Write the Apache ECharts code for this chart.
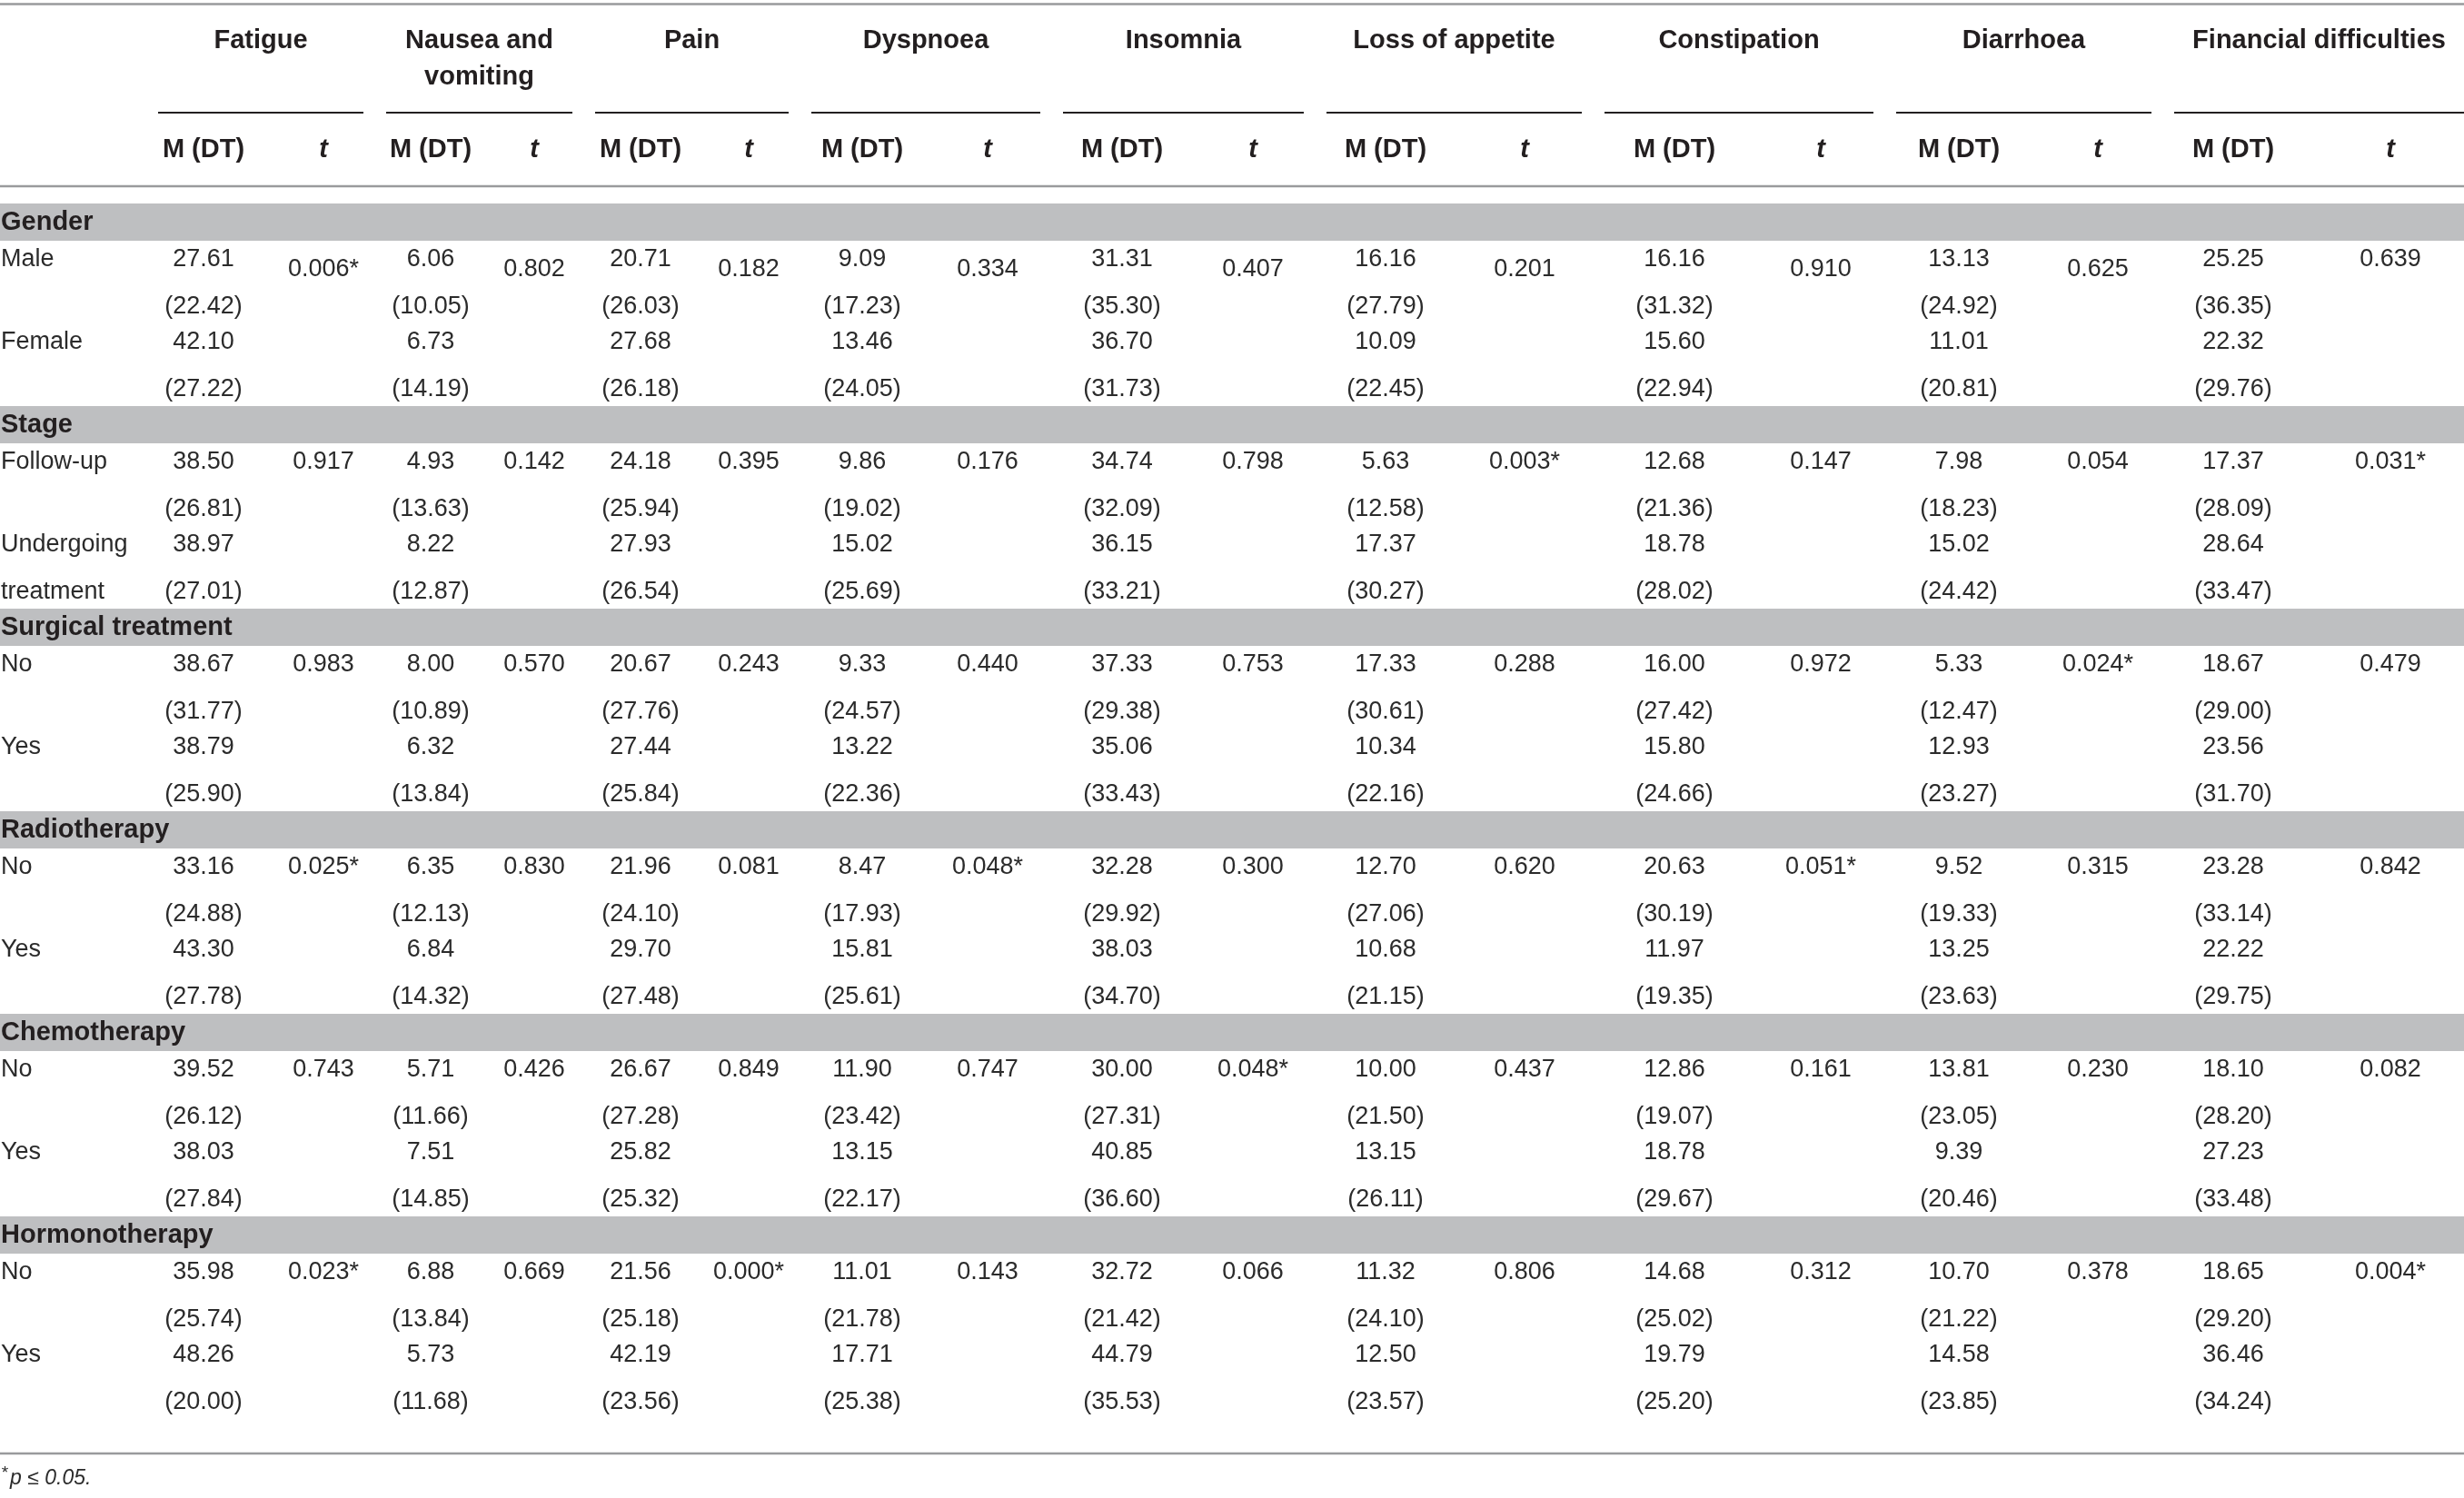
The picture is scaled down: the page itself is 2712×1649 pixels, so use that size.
<!DOCTYPE html>
<html>
<head>
<meta charset="utf-8">
<title>Symptom scales by clinical variables</title>
<script src="https://cdn.jsdelivr.net/npm/echarts@6/dist/echarts.min.js"></script>
<style>
html, body { margin: 0; padding: 0; background: #fff; }
#main { width: 2712px; height: 1649px; }
</style>
</head>
<body>
<div id="main"></div>
<script>
var symptoms = ['Fatigue', 'Nausea and\nvomiting', 'Pain', 'Dyspnoea', 'Insomnia',
  'Loss of appetite', 'Constipation', 'Diarrhoea', 'Financial difficulties'];
var subHeads = ['M (DT)', 't'];
var groups = ['Gender', 'Stage', 'Surgical treatment', 'Radiotherapy', 'Chemotherapy', 'Hormonotherapy'];
var levels = [['Male', 'Female'], ['Follow-up', 'Undergoing\ntreatment'], ['No', 'Yes'],
  ['No', 'Yes'], ['No', 'Yes'], ['No', 'Yes']];

var genderMean = [[27.61, 6.06, 20.71, 9.09, 31.31, 16.16, 16.16, 13.13, 25.25],
                  [42.10, 6.73, 27.68, 13.46, 36.70, 10.09, 15.60, 11.01, 22.32]];
var genderSD = [[22.42, 10.05, 26.03, 17.23, 35.30, 27.79, 31.32, 24.92, 36.35],
                [27.22, 14.19, 26.18, 24.05, 31.73, 22.45, 22.94, 20.81, 29.76]];
var genderT = ['0.006*', '0.802', '0.182', '0.334', '0.407', '0.201', '0.910', '0.625', '0.639'];

var stageMean = [[38.50, 4.93, 24.18, 9.86, 34.74, 5.63, 12.68, 7.98, 17.37],
                 [38.97, 8.22, 27.93, 15.02, 36.15, 17.37, 18.78, 15.02, 28.64]];
var stageSD = [[26.81, 13.63, 25.94, 19.02, 32.09, 12.58, 21.36, 18.23, 28.09],
               [27.01, 12.87, 26.54, 25.69, 33.21, 30.27, 28.02, 24.42, 33.47]];
var stageT = ['0.917', '0.142', '0.395', '0.176', '0.798', '0.003*', '0.147', '0.054', '0.031*'];

var surgeryMean = [[38.67, 8.00, 20.67, 9.33, 37.33, 17.33, 16.00, 5.33, 18.67],
                   [38.79, 6.32, 27.44, 13.22, 35.06, 10.34, 15.80, 12.93, 23.56]];
var surgerySD = [[31.77, 10.89, 27.76, 24.57, 29.38, 30.61, 27.42, 12.47, 29.00],
                 [25.90, 13.84, 25.84, 22.36, 33.43, 22.16, 24.66, 23.27, 31.70]];
var surgeryT = ['0.983', '0.570', '0.243', '0.440', '0.753', '0.288', '0.972', '0.024*', '0.479'];

var radioMean = [[33.16, 6.35, 21.96, 8.47, 32.28, 12.70, 20.63, 9.52, 23.28],
                 [43.30, 6.84, 29.70, 15.81, 38.03, 10.68, 11.97, 13.25, 22.22]];
var radioSD = [[24.88, 12.13, 24.10, 17.93, 29.92, 27.06, 30.19, 19.33, 33.14],
               [27.78, 14.32, 27.48, 25.61, 34.70, 21.15, 19.35, 23.63, 29.75]];
var radioT = ['0.025*', '0.830', '0.081', '0.048*', '0.300', '0.620', '0.051*', '0.315', '0.842'];

var chemoMean = [[39.52, 5.71, 26.67, 11.90, 30.00, 10.00, 12.86, 13.81, 18.10],
                 [38.03, 7.51, 25.82, 13.15, 40.85, 13.15, 18.78, 9.39, 27.23]];
var chemoSD = [[26.12, 11.66, 27.28, 23.42, 27.31, 21.50, 19.07, 23.05, 28.20],
               [27.84, 14.85, 25.32, 22.17, 36.60, 26.11, 29.67, 20.46, 33.48]];
var chemoT = ['0.743', '0.426', '0.849', '0.747', '0.048*', '0.437', '0.161', '0.230', '0.082'];

var hormoneMean = [[35.98, 6.88, 21.56, 11.01, 32.72, 11.32, 14.68, 10.70, 18.65],
                   [48.26, 5.73, 42.19, 17.71, 44.79, 12.50, 19.79, 14.58, 36.46]];
var hormoneSD = [[25.74, 13.84, 25.18, 21.78, 21.42, 24.10, 25.02, 21.22, 29.20],
                 [20.00, 11.68, 23.56, 25.38, 35.53, 23.57, 25.20, 23.85, 34.24]];
var hormoneT = ['0.023*', '0.669', '0.000*', '0.143', '0.066', '0.806', '0.312', '0.378', '0.004*'];

var footnote = 'p \u2264 0.05.';

var means = [genderMean, stageMean, surgeryMean, radioMean, chemoMean, hormoneMean];
var sds = [genderSD, stageSD, surgerySD, radioSD, chemoSD, hormoneSD];
var tvals = [genderT, stageT, surgeryT, radioT, chemoT, hormoneT];

// ---- table layout (in table units = page pixels) ----
var W = 2712, H = 1649;
var colM = [224, 474, 705, 949, 1235, 1525, 1843, 2156, 2458];
var colT = [356, 588, 824, 1087, 1379, 1678, 2004, 2309, 2631];
var spans = [[174, 400], [425, 630], [655, 868], [893, 1145], [1170, 1435],
             [1460, 1741], [1766, 2062], [2087, 2368], [2393, 2712]];
var groupTop = 224, groupStep = 223, bandH = 41;
var lineOff = [61.5, 114, 152.5, 205];

var FONT = '"Liberation Sans", Arial, Helvetica, sans-serif';
var styles = {
  head:  { fontSize: 29, fontWeight: 'bold', fill: '#231f20', align: 'center', verticalAlign: 'top', lineHeight: 40 },
  sub:   { fontSize: 29, fontWeight: 'bold', fill: '#231f20', align: 'center', verticalAlign: 'middle' },
  subIt: { fontSize: 29, fontWeight: 'bold', fontStyle: 'italic', fill: '#231f20', align: 'center', verticalAlign: 'middle' },
  group: { fontSize: 29, fontWeight: 'bold', fill: '#231f20', align: 'left', verticalAlign: 'middle' },
  label: { fontSize: 27, fill: '#2b2b2b', align: 'left', verticalAlign: 'middle' },
  num:   { fontSize: 27, fill: '#2b2b2b', align: 'center', verticalAlign: 'middle' },
  star:  { fontSize: 19, fontStyle: 'italic', fill: '#2b2b2b', align: 'left', verticalAlign: 'middle' },
  foot:  { fontSize: 23, fontStyle: 'italic', fill: '#2b2b2b', align: 'left', verticalAlign: 'middle' }
};

// build text cells
var cells = [];
function cell(x, y, text, kind) { cells.push({ x: x, y: y, text: text, kind: kind }); }

symptoms.forEach(function (s, c) {
  cell((spans[c][0] + spans[c][1]) / 2, 25, s, 'head');
  cell(colM[c], 165, subHeads[0], 'sub');
  cell(colT[c], 165, subHeads[1], 'subIt');
});

groups.forEach(function (g, gi) {
  var top = groupTop + gi * groupStep;
  cell(1, top + bandH / 2, g, 'group');
  levels[gi].forEach(function (lv, li) {
    var parts = lv.split('\n');
    var yMean = top + lineOff[li * 2], ySD = top + lineOff[li * 2 + 1];
    cell(1, yMean, parts[0], 'label');
    if (parts[1]) cell(1, ySD, parts[1], 'label');
    for (var c = 0; c < symptoms.length; c++) {
      cell(colM[c], yMean, means[gi][li][c].toFixed(2), 'num');
      cell(colM[c], ySD, '(' + sds[gi][li][c].toFixed(2) + ')', 'num');
    }
  });
  for (var c = 0; c < symptoms.length; c++) {
    // gender row's t values sit a little lower in the source, except the last column
    var drop = (gi === 0 && c < symptoms.length - 1) ? 11 : 0;
    cell(colT[c], top + lineOff[0] + drop, tvals[gi][c], 'num');
  }
});
cell(1, 1622, '*', 'star');
cell(11, 1628, footnote, 'foot');

// bands and rules: [x1, x2, y1, y2, kind]
var shapes = [];
groups.forEach(function (g, gi) {
  var top = groupTop + gi * groupStep;
  shapes.push([0, W, top, top + bandH, 'band']);
});
shapes.push([0, W, 4.5, 4.5, 'rule']);
shapes.push([0, W, 205, 205, 'rule']);
shapes.push([0, W, 1600, 1600, 'rule']);
spans.forEach(function (s) { shapes.push([s[0], s[1], 124, 124, 'under']); });

var chart = echarts.init(document.getElementById('main'), null, { renderer: 'canvas' });
chart.setOption({
  animation: false,
  backgroundColor: '#ffffff',
  grid: { left: 0, right: 0, top: 0, bottom: 0 },
  xAxis: { type: 'value', min: 0, max: W, show: false },
  yAxis: { type: 'value', min: 0, max: H, inverse: true, show: false },
  series: [
    {
      type: 'custom',
      clip: false,
      silent: true,
      data: shapes.map(function (s, i) { return [s[0], s[1], s[2], s[3], i]; }),
      renderItem: function (params, api) {
        var s = shapes[api.value(4)];
        var p1 = api.coord([s[0], s[2]]);
        var p2 = api.coord([s[1], s[3]]);
        if (s[4] === 'band') {
          return { type: 'rect', shape: { x: p1[0], y: p1[1], width: p2[0] - p1[0], height: p2[1] - p1[1] },
                   style: { fill: '#bebfc1' } };
        }
        return { type: 'line', shape: { x1: p1[0], y1: p1[1], x2: p2[0], y2: p2[1] },
                 style: s[4] === 'rule' ? { stroke: '#999a9c', lineWidth: 2.5 } : { stroke: '#231f20', lineWidth: 2 } };
      }
    },
    {
      type: 'custom',
      clip: false,
      silent: true,
      data: cells.map(function (c, i) { return [c.x, c.y, i]; }),
      renderItem: function (params, api) {
        var c = cells[api.value(2)];
        var p = api.coord([api.value(0), api.value(1)]);
        var st = Object.assign({ text: c.text, fontFamily: FONT }, styles[c.kind]);
        return { type: 'text', x: p[0], y: p[1], style: st };
      }
    }
  ]
});
</script>
</body>
</html>
